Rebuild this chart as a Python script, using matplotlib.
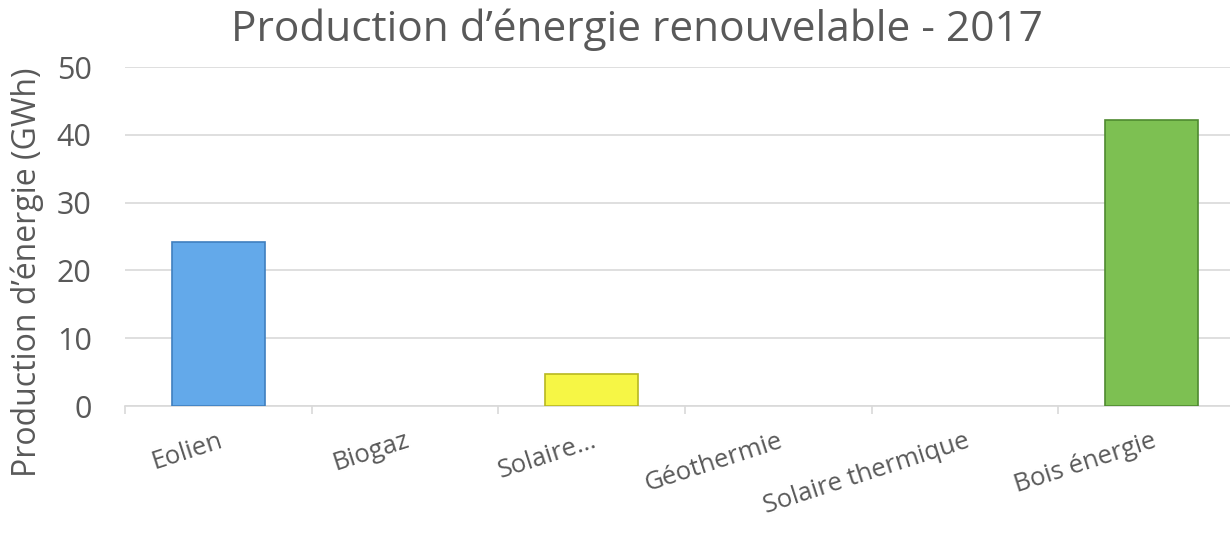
import numpy as np
import matplotlib
matplotlib.use("Agg")
import matplotlib.pyplot as plt

categories = ["Eolien", "Biogaz", "Solaire…", "Géothermie", "Solaire thermique", "Bois énergie"]
values = [24.2, 0, 4.7, 0, 0, 42.2]
colors = ["#63A9EA", "#6FB84A", "#F6F645", "#A0A0A0", "#E89A4A", "#7DC052"]
edges = ["#3F7FBF", "#4E8A30", "#B8B820", "#707070", "#B06A20", "#4F8A30"]
yticks = [0, 10, 20, 30, 40, 50]

plt.rcParams['font.family'] = ['Open Sans', 'DejaVu Sans']
grey = "#595959"

fig = plt.figure(figsize=(12.3, 5.34), dpi=100)
# plot area runs slightly past the right edge of the image
ax = fig.add_axes([0.1016, 0.2397, 0.9106, 0.6348])

x = np.arange(len(categories))
lw = [1.2 if v > 0 else 0 for v in values]
ax.bar(x, values, width=0.5, color=colors, edgecolor=edges, linewidth=lw, zorder=3)

ax.set_xlim(-0.5, len(categories) - 0.5)
ax.set_ylim(0, 50)
ax.set_yticks(yticks)
ax.set_yticklabels([str(t) for t in yticks], fontsize=22, color=grey)
ax.yaxis.grid(True, color="#D9D9D9", linewidth=1.2, zorder=0)
ax.tick_params(axis="y", length=0, pad=24)

ax.set_xticks(x)
ax.set_xticklabels(categories, rotation=18, fontsize=18.5, color=grey,
                   ha="right", va="top", rotation_mode="anchor")
ax.set_xticks(np.arange(-0.5, len(categories), 1.0), minor=True)
ax.tick_params(axis="x", which="major", length=0, pad=16)
ax.tick_params(axis="x", which="minor", length=6, color="#D9D9D9", width=1.2)

for s in ["top", "right", "left"]:
    ax.spines[s].set_visible(False)
ax.spines["bottom"].set_color("#D9D9D9")
ax.spines["bottom"].set_linewidth(1.2)

ax.set_ylabel("Production d’énergie (GWh)", fontsize=23, color=grey)
ax.yaxis.set_label_coords(-0.072, 0.395)
fig.suptitle("Production d’énergie renouvelable - 2017", fontsize=30.5, color=grey,
             x=0.518, y=0.944, va="center")

fig.savefig("out.png", dpi=100)
